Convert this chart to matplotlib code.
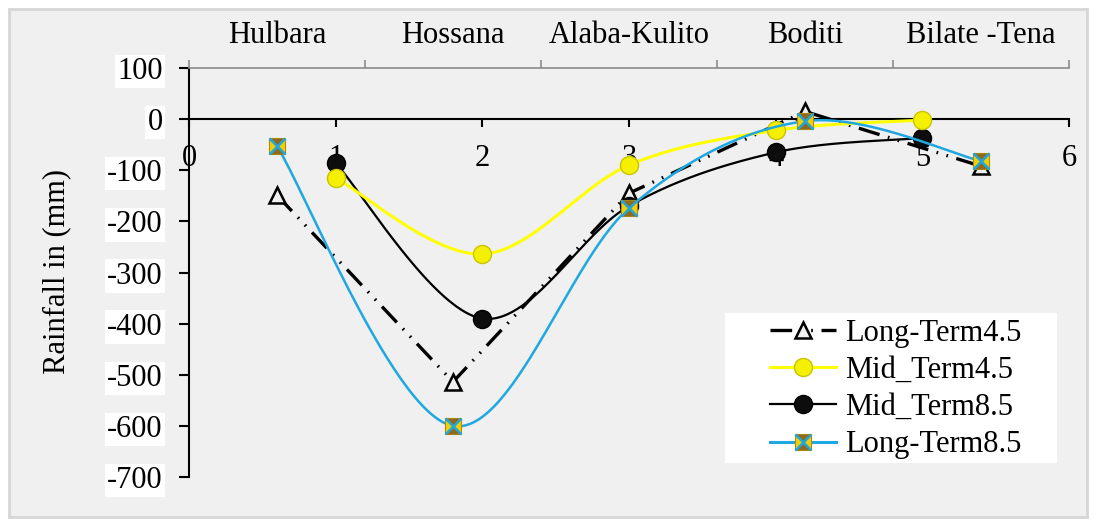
import numpy as np
import matplotlib
matplotlib.use('Agg')
import matplotlib.pyplot as plt
from matplotlib.patches import Rectangle
from matplotlib.path import Path

# data
stations = ['Hulbara', 'Hossana', 'Alaba-Kulito', 'Boditi', 'Bilate -Tena']
x_long = [0.6, 1.8, 3.0, 4.2, 5.4]
x_mid = [1, 2, 3, 4, 5]
long_term_45 = [-149, -514, -145, 15, -92]
mid_term_45 = [-115, -264, -90, -22, -2]
mid_term_85 = [-86, -390, -170, -65, -37]
long_term_85 = [-53, -600, -174, -4, -82]
x_ticks = [0, 1, 2, 3, 4, 5, 6]
y_ticks = [100, 0, -100, -200, -300, -400, -500, -600, -700]

W, H = 1095, 524
FS = 22


def smooth(x, y, n=60):
    """Catmull-Rom bezier, close to excel's smoothed line"""
    p = np.column_stack([x, y]).astype(float)
    p = np.vstack([p[0], p, p[-1]])
    t = np.linspace(0, 1, n)[:, None]
    out = []
    for i in range(1, len(p) - 2):
        p0, p1, p2, p3 = p[i - 1], p[i], p[i + 1], p[i + 2]
        c1 = p1 + (p2 - p0) / 6
        c2 = p2 - (p3 - p1) / 6
        seg = ((1 - t) ** 3) * p1 + 3 * ((1 - t) ** 2) * t * c1 + 3 * (1 - t) * t ** 2 * c2 + t ** 3 * p2
        out.append(seg)
    out = np.vstack(out)
    return out[:, 0], out[:, 1]


plt.rcParams['font.family'] = ['Liberation Serif', 'DejaVu Serif']
plt.rcParams['font.size'] = FS

fig = plt.figure(figsize=(W / 100, H / 100), dpi=100)
fig.patch.set_facecolor('white')
fig.add_artist(Rectangle((9 / W, 1 - 517 / H), (1087 - 9) / W, (517 - 9) / H,
                         transform=fig.transFigure, facecolor='#f0f0f0',
                         edgecolor='#d6d6d6', lw=2, zorder=0))

ax = fig.add_axes([189 / W, 1 - 477 / H, 880 / W, 409 / H])
ax.patch.set_visible(False)
ax.set_xlim(0, 6)
ax.set_ylim(-700, 100)

# Long-Term4.5 : straight dash-dot-dot
lt45, = ax.plot(x_long, long_term_45, color='black', lw=2.4,
                dashes=(6.5, 2.6, 0.5, 2.6, 0.5, 2.6), dash_capstyle='butt',
                marker='^', ms=11, mfc='#f0f0f0', mec='black', mew=1.8, zorder=3)

# Mid_Term8.5
sx, sy = smooth(x_mid, mid_term_85)
ax.plot(sx, sy, color='black', lw=1.6, zorder=4)
mt85, = ax.plot(x_mid, mid_term_85, ls='none', marker='o', ms=13,
                mfc='#0d0d0d', mec='#000000', zorder=4)

# Mid_Term4.5
sx, sy = smooth(x_mid, mid_term_45)
ax.plot(sx, sy, color='#ffff00', lw=2.2, zorder=5)
mt45, = ax.plot(x_mid, mid_term_45, ls='none', marker='o', ms=13,
                mfc='#f5f000', mec='#c9c400', mew=1, zorder=5)

# Long-Term8.5
sx, sy = smooth(x_long, long_term_85)
ax.plot(sx, sy, color='#1ea7e1', lw=1.8, zorder=6)
hourglass = Path([(-1, 1), (1, 1), (0, 0), (-1, -1), (1, -1), (0, 0), (-1, 1)],
                 [Path.MOVETO, Path.LINETO, Path.LINETO, Path.MOVETO, Path.LINETO,
                  Path.LINETO, Path.CLOSEPOLY])
lt85a, = ax.plot(x_long, long_term_85, ls='none', marker='s', ms=11,
                 mfc='#f4cf00', mec='#b08a10', mew=0.8, zorder=7)
lt85b, = ax.plot(x_long, long_term_85, ls='none', marker=hourglass, ms=11,
                 mfc='#8d6a1c', mec='none', zorder=7)
lt85c, = ax.plot(x_long, long_term_85, ls='none', marker='x', ms=11,
                 mec='#1ea7e1', mew=1.8, zorder=8)

# axes styling
for s in ['top', 'right']:
    ax.spines[s].set_visible(False)
ax.spines['bottom'].set_position(('data', 0))
ax.spines['bottom'].set_linewidth(1.5)
ax.spines['left'].set_linewidth(1.5)
ax.set_xticks(x_ticks)
ax.set_xticklabels([str(v) for v in x_ticks])
ax.tick_params(axis='x', direction='out', length=6, width=1.5, pad=12)
ax.set_yticks(y_ticks)
ax.set_yticklabels([str(v) for v in y_ticks])
ax.tick_params(axis='y', direction='out', length=7, width=1.5, pad=12)
for lbl in ax.get_yticklabels():
    lbl.set_bbox(dict(facecolor='white', edgecolor='none', pad=1.5))

# category axis on top
ax2 = ax.twiny()
ax2.set_xlim(0, 6)
for s in ['bottom', 'left', 'right']:
    ax2.spines[s].set_visible(False)
ax2.spines['top'].set_color('#8a8a8a')
ax2.spines['top'].set_linewidth(1.2)
ax2.set_xticks([0, 1.2, 2.4, 3.6, 4.8, 6.0])
ax2.set_xticklabels([])
ax2.set_xticks(x_long, minor=True)
ax2.set_xticklabels(stations, minor=True)
ax2.tick_params(axis='x', which='major', direction='out', length=6, width=1.2, color='#8a8a8a')
ax2.tick_params(axis='x', which='minor', length=0, pad=13)

fig.text(57 / W, 1 - 272 / H, 'Rainfall in (mm)', rotation=90, ha='center', va='center', fontsize=FS)

# legend: white box drawn separately (wide left padding in the original)
fig.add_artist(Rectangle((725 / W, 1 - 463 / H), (1057 - 725) / W, (463 - 313) / H,
                         transform=fig.transFigure, facecolor='white', edgecolor='none', zorder=9))
yellow_line, = ax.plot([], [], color='#ffff00', lw=2.2)
black_line, = ax.plot([], [], color='black', lw=1.6)
blue_line, = ax.plot([], [], color='#1ea7e1', lw=2.2)
handles = [lt45, (yellow_line, mt45), (black_line, mt85), (blue_line, lt85a, lt85b, lt85c)]
labels = ['Long-Term4.5', 'Mid_Term4.5', 'Mid_Term8.5', 'Long-Term8.5']
leg = fig.legend(handles, labels, loc='center left', bbox_to_anchor=(770 / W, 1 - 389 / H),
                 bbox_transform=fig.transFigure, frameon=False, borderpad=0, labelspacing=0.27,
                 handlelength=2.15, handletextpad=0.3, fontsize=FS, borderaxespad=0)
leg.set_zorder(10)

fig.savefig('out.png', dpi=100, facecolor=fig.get_facecolor())
